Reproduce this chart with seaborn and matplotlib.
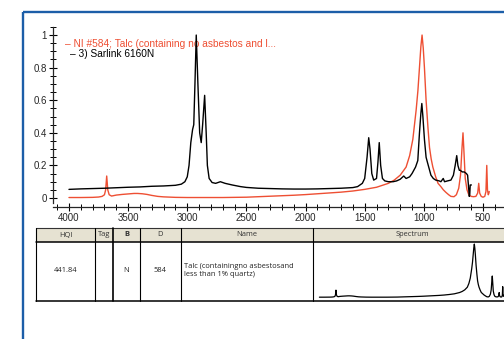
import matplotlib
matplotlib.use("Agg")
import matplotlib.pyplot as plt
from matplotlib.patches import Rectangle
from matplotlib.ticker import MultipleLocator, FuncFormatter
import seaborn as sns

# Sarlink 6160N (sample spectrum, black)
wn_sarlink = [4000, 3900, 3800, 3700, 3600, 3500, 3400, 3300, 3200, 3100,
              3050, 3020, 3000, 2985, 2970, 2955, 2945, 2935, 2924, 2910,
              2895, 2882, 2870, 2853, 2840, 2830, 2815, 2790, 2760, 2720,
              2680, 2620, 2550, 2500, 2400, 2300, 2200, 2100, 2000, 1900,
              1800, 1700, 1650, 1600, 1560, 1540, 1520, 1500, 1480, 1466,
              1455, 1440, 1424, 1400, 1388, 1377, 1365, 1350, 1330, 1300,
              1260, 1230, 1200, 1170, 1150, 1120, 1100, 1070, 1051, 1037,
              1025, 1017, 1008, 995, 981, 970, 955, 940, 920, 900,
              870, 856, 836, 825, 800, 771, 750, 735, 722, 712,
              700, 692, 675, 658, 640, 630, 620, 616, 612, 608, 598]
abs_sarlink = [0.053, 0.056, 0.058, 0.060, 0.063, 0.066, 0.068, 0.072, 0.074, 0.078,
               0.085, 0.10, 0.13, 0.20, 0.34, 0.42, 0.45, 0.70, 1.00, 0.70,
               0.40, 0.34, 0.45, 0.63, 0.40, 0.20, 0.12, 0.095, 0.09, 0.10,
               0.09, 0.08, 0.07, 0.065, 0.06, 0.058, 0.056, 0.055, 0.055, 0.056,
               0.058, 0.060, 0.062, 0.064, 0.070, 0.080, 0.090, 0.12, 0.25, 0.37,
               0.30, 0.15, 0.11, 0.12, 0.22, 0.34, 0.20, 0.12, 0.105, 0.10,
               0.10, 0.105, 0.115, 0.135, 0.12, 0.13, 0.15, 0.19, 0.23, 0.40,
               0.52, 0.58, 0.50, 0.36, 0.25, 0.22, 0.18, 0.14, 0.12, 0.11,
               0.105, 0.10, 0.12, 0.10, 0.105, 0.11, 0.14, 0.20, 0.26, 0.20,
               0.17, 0.17, 0.16, 0.16, 0.15, 0.14, 0.05, 0.01, 0.02, 0.08, 0.08]

# NI #584 Talc (library hit, red)
wn_talc = [4000, 3900, 3800, 3750, 3720, 3700, 3690, 3681, 3672, 3660,
           3640, 3600, 3550, 3500, 3450, 3420, 3380, 3340, 3300, 3250,
           3200, 3100, 3000, 2900, 2800, 2700, 2600, 2500, 2400, 2300,
           2200, 2100, 2000, 1900, 1800, 1700, 1600, 1500, 1400, 1300,
           1250, 1200, 1150, 1120, 1093, 1065, 1050, 1037, 1025, 1015,
           1005, 995, 981, 965, 952, 938, 924, 900, 880, 856,
           835, 814, 790, 771, 745, 725, 705, 690, 678, 669,
           662, 650, 635, 620, 600, 580, 560, 545, 536, 528,
           515, 500, 485, 475, 468, 462, 455, 450, 447]
abs_talc = [0.003, 0.003, 0.004, 0.006, 0.01, 0.02, 0.05, 0.135, 0.05, 0.02,
            0.012, 0.018, 0.022, 0.025, 0.028, 0.028, 0.026, 0.022, 0.016, 0.010,
            0.007, 0.004, 0.003, 0.003, 0.003, 0.003, 0.004, 0.005, 0.008, 0.011,
            0.014, 0.017, 0.021, 0.026, 0.031, 0.036, 0.043, 0.053, 0.066, 0.09,
            0.11, 0.14, 0.19, 0.26, 0.36, 0.54, 0.66, 0.80, 0.93, 1.00,
            0.92, 0.80, 0.60, 0.43, 0.31, 0.24, 0.19, 0.13, 0.09, 0.07,
            0.05, 0.035, 0.02, 0.01, 0.008, 0.02, 0.06, 0.14, 0.30, 0.40,
            0.30, 0.12, 0.05, 0.02, 0.01, 0.008, 0.01, 0.03, 0.09, 0.03,
            0.01, 0.005, 0.01, 0.04, 0.20, 0.05, 0.02, 0.03, 0.04]

x_ticks = [4000, 3500, 3000, 2500, 2000, 1500, 1000, 500]
y_ticks = [0, 0.2, 0.4, 0.6, 0.8, 1.0]
legend_labels = ["NI #584; Talc (containing no asbestos and l...", "3) Sarlink 6160N"]

table_headers = ["HQI", "Tag", "B", "D", "Name", "Spectrum"]
table_row = ["441.84", "", "N", "584",
             "Talc (containingno asbestosand\nless than 1% quartz)"]
col_edges = [36, 95, 113, 140, 181, 313, 512]

RED = "#ee4f33"
BLUE = "#1c5ea8"
TABLE_FONT = ["Open Sans", "DejaVu Sans"]

sns.set_style("ticks")
plt.rcParams["font.family"] = ["Liberation Sans", "DejaVu Sans"]

W, H = 504, 339
fig = plt.figure(figsize=(W / 100, H / 100), dpi=100)

# overlay in pixel coordinates for the frame and the table
ov = fig.add_axes([0, 0, 1, 1], zorder=0)
ov.set_xlim(0, W)
ov.set_ylim(H, 0)
ov.axis("off")
ov.add_patch(Rectangle((23, 12), 600, 600, fill=False, edgecolor=BLUE, lw=1.7))

ov.add_patch(Rectangle((col_edges[0], 228), col_edges[-1] - col_edges[0], 14,
                       facecolor="#e6e2d2", edgecolor="none"))
ov.plot([col_edges[0], col_edges[-1]], [228, 228], color="#333333", lw=0.8)
ov.plot([col_edges[0], col_edges[-1]], [242, 242], color="black", lw=1.1)
ov.plot([col_edges[0], col_edges[-1]], [301, 301], color="black", lw=1.1)
for i, xe in enumerate(col_edges[:-1]):
    ov.plot([xe, xe], [228, 301], color="black", lw=1.2 if i == 2 else 0.8)

for i, head in enumerate(table_headers):
    cx = (col_edges[i] + col_edges[i + 1]) / 2
    ov.text(cx, 235, head, ha="center", va="center", fontsize=5.4,
            family=TABLE_FONT, color="#333333",
            fontweight="bold" if head == "B" else "normal")
for i, val in enumerate(table_row[:4]):
    cx = (col_edges[i] + col_edges[i + 1]) / 2
    ov.text(cx, 271, val, ha="center", va="center", fontsize=5.4,
            family=TABLE_FONT, color="#222222")
ov.text(184, 270.5, table_row[4], ha="left", va="center", fontsize=5.4,
        family=TABLE_FONT, color="#222222", linespacing=1.1)

# main spectrum axes
px = 0.11829  # pixels per wavenumber
x_left, x_right = 4135, 300
y_bot, y_top = -0.03, 1.05
ax = fig.add_axes([53 / W, (H - 202.9) / H, (x_left - x_right) * px / W, 176 / H],
                  zorder=2)
ax.patch.set_alpha(0)
sns.lineplot(x=wn_talc, y=abs_talc, ax=ax, color=RED, lw=1.0,
             estimator=None, sort=False, zorder=3)
sns.lineplot(x=wn_sarlink, y=abs_sarlink, ax=ax, color="black", lw=1.0,
             estimator=None, sort=False, zorder=4)
ax.set_xlim(x_left, x_right)
ax.set_ylim(y_bot, y_top)
ax.set_xticks(x_ticks)
ax.set_yticks(y_ticks)
ax.xaxis.set_minor_locator(MultipleLocator(100))
ax.yaxis.set_minor_locator(MultipleLocator(0.05))
ax.yaxis.set_major_formatter(FuncFormatter(lambda v, p: f"{v:g}"))
ax.tick_params(which="major", direction="inout", length=6, width=0.8,
               labelsize=7, pad=1.5, color="black")
ax.tick_params(which="minor", direction="inout", length=4, width=0.7, color="black")
ax.set_xlabel("")
ax.set_ylabel("")
for s in ["top", "right"]:
    ax.spines[s].set_visible(False)
ax.spines["bottom"].set_position(("outward", 3))
ax.spines["left"].set_linewidth(0.9)
ax.spines["bottom"].set_linewidth(0.9)

# legend-like labels
ax.text(4030, 0.948, "\u2013 " + legend_labels[0], color=RED, fontsize=7.3,
        va="center", ha="left", zorder=1)
ax.text(3990, 0.886, "\u2013 " + legend_labels[1], color="black", fontsize=7.3,
        va="center", ha="left", zorder=1)

# small spectrum preview in the table
ipx = 0.0519
ix0, ix1 = 314, 512
iax = fig.add_axes([ix0 / W, (H - 300) / H, (ix1 - ix0) / W, 57 / H], zorder=3)
sns.lineplot(x=wn_talc, y=abs_talc, ax=iax, color="black", lw=0.9,
             estimator=None, sort=False)
iax.set_xlim(4000 + (319.4 - ix0) / ipx, 4000 - (ix1 - 319.4) / ipx)
iax.set_ylim(-0.05, 1.02)
iax.axis("off")

fig.savefig("out.png", dpi=100)
